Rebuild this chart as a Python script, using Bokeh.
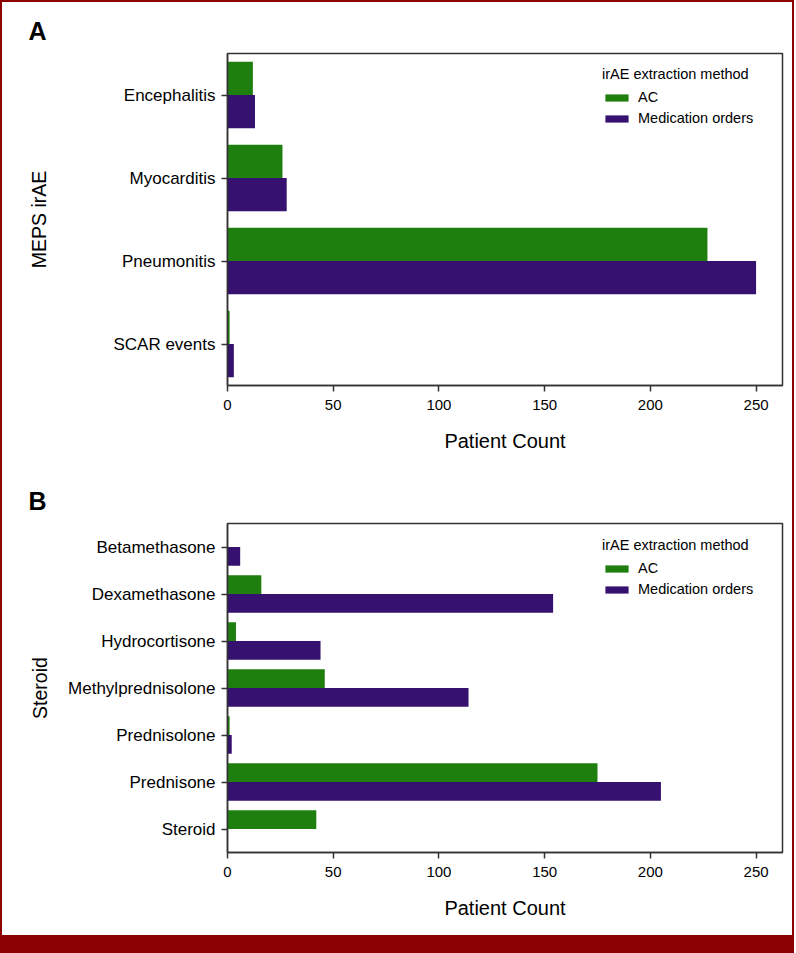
from bokeh.plotting import figure
from bokeh.models import (Range1d, FactorRange, FixedTicker, ColumnDataSource,
                          Legend, LegendItem, Div)
from bokeh.transform import dodge
from bokeh.layouts import column
from bokeh.embed import file_html
from bokeh.resources import INLINE

# ---------------- data ----------------
irae_cats = ["Encephalitis", "Myocarditis", "Pneumonitis", "SCAR events"]
irae_ac = [12, 26, 227, 1]
irae_med = [13, 28, 250, 3]

steroid_cats = ["Betamethasone", "Dexamethasone", "Hydrocortisone",
                "Methylprednisolone", "Prednisolone", "Prednisone", "Steroid"]
steroid_ac = [0, 16, 4, 46, 1, 175, 42]
steroid_med = [6, 154, 44, 114, 2, 205, 0]

x_ticks = [0, 50, 100, 150, 200, 250]
x_max = 262.5
series_names = ["AC", "Medication orders"]
series_colors = ["#1f7f0e", "#36116f"]
legend_title = "irAE extraction method"
x_label = "Patient Count"

FONT = "Liberation Sans"
DARK = "#333333"


def make_panel(cats, ac, med, letter, ylabel, height, b_top, b_bottom,
               legend_xy, ylabel_standoff):
    src = ColumnDataSource(dict(cat=cats, ac=ac, med=med))
    p = figure(width=790, height=height,
               y_range=FactorRange(factors=cats[::-1]),
               x_range=Range1d(0, x_max),
               output_backend="svg", toolbar_location=None,
               min_border_left=225, min_border_right=10,
               min_border_top=b_top, min_border_bottom=b_bottom)
    r_ac = p.hbar(y=dodge("cat", 0.2, range=p.y_range), left=0, right="ac",
                  height=0.4, source=src, fill_color=series_colors[0],
                  line_color=None)
    r_med = p.hbar(y=dodge("cat", -0.2, range=p.y_range), left=0, right="med",
                   height=0.4, source=src, fill_color=series_colors[1],
                   line_color=None)

    p.title.text = letter
    p.title.text_font = FONT
    p.title.text_font_size = "25px"
    p.title.text_font_style = "bold"
    p.title.text_color = "black"
    p.title.align = "left"
    p.title.offset = -199
    p.title.standoff = 18

    p.xgrid.visible = False
    p.ygrid.visible = False
    p.outline_line_color = DARK
    p.outline_line_width = 1.5
    p.background_fill_color = "white"
    p.border_fill_color = "white"

    xa = p.xaxis[0]
    xa.ticker = FixedTicker(ticks=x_ticks, minor_ticks=[])
    xa.axis_label = x_label
    xa.axis_label_text_font = FONT
    xa.axis_label_text_font_size = "20px"
    xa.axis_label_text_font_style = "normal"
    xa.axis_label_text_color = "black"
    xa.axis_label_standoff = 17
    xa.major_label_text_font = FONT
    xa.major_label_text_font_size = "15px"
    xa.major_label_text_color = "black"
    xa.major_label_standoff = 8

    ya = p.yaxis[0]
    ya.axis_label = ylabel
    ya.axis_label_text_font = FONT
    ya.axis_label_text_font_size = "19.5px"
    ya.axis_label_text_font_style = "normal"
    ya.axis_label_text_color = "black"
    ya.axis_label_standoff = ylabel_standoff
    ya.major_label_text_font = FONT
    ya.major_label_text_font_size = "17px"
    ya.major_label_text_color = "black"
    ya.major_label_standoff = 6

    for ax in (xa, ya):
        ax.axis_line_color = DARK
        ax.axis_line_width = 1.5
        ax.major_tick_line_color = DARK
        ax.major_tick_line_width = 1.5
        ax.major_tick_out = 6
        ax.major_tick_in = 0
        ax.minor_tick_line_color = None

    legend = Legend(items=[LegendItem(label=series_names[0], renderers=[r_ac]),
                           LegendItem(label=series_names[1], renderers=[r_med])],
                    location=legend_xy, title=legend_title,
                    border_line_color=None, background_fill_alpha=0,
                    padding=0, margin=0, spacing=1,
                    glyph_width=29, glyph_height=9, label_height=20,
                    label_standoff=7,
                    label_text_font=FONT, label_text_font_size="14.5px",
                    label_text_color="black",
                    title_text_font=FONT, title_text_font_size="14.5px",
                    title_text_font_style="normal", title_text_color="black",
                    title_standoff=5)
    p.add_layout(legend)
    return p


pA = make_panel(irae_cats, irae_ac, irae_med, "A", "MEPS irAE", 464, 51, 81,
                (375, 257), 60)
pB = make_panel(steroid_cats, steroid_ac, steroid_med, "B", "Steroid", 469, 57,
                83, (375, 253), 14)

bar = Div(text="", width=790, height=18, margin=0,
          styles={"background-color": "#8B0000"})

layout = column(pA, pB, bar, spacing=0,
                styles={"border-left": "2px solid #8B0000",
                        "border-right": "2px solid #8B0000",
                        "border-top": "2px solid #8B0000"})

open("out.html", "w").write(file_html(layout, INLINE))
